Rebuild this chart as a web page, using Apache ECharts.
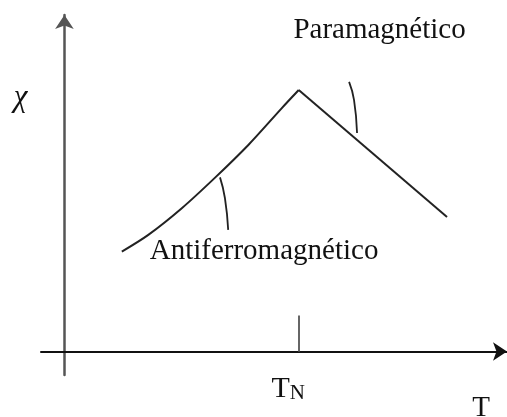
<!DOCTYPE html>
<html>
<head>
<meta charset="utf-8">
<script src="https://cdn.jsdelivr.net/npm/echarts@6/dist/echarts.min.js"></script>
<style>
  html, body { margin: 0; padding: 0; background: #fff; }
  #chart { width: 507px; height: 417px; }
</style>
</head>
<body>
<div id="chart"></div>
<script>
// Susceptibility χ versus temperature T around the Néel temperature T_N (= 100).
// Below T_N: antiferromagnetic branch (rising, slightly convex).
const antiferroT   = [24.5, 35.8, 50.1, 64.3, 78.5, 92.7, 100];
const antiferroChi = [3.82, 4.46, 5.48, 6.65, 7.90, 9.30, 10.0];
// Above T_N: paramagnetic branch (straight decline).
const paraT   = [100, 163.3];
const paraChi = [10.0, 5.14];

// Short leader strokes joining each label to its branch.
const paraLeaderT   = [121.5, 123.6, 124.9];
const paraLeaderChi = [10.31, 9.62, 8.36];
const antiLeaderT   = [66.4, 68.5, 69.9];
const antiLeaderChi = [6.66, 5.87, 4.65];

// Text annotations placed in data coordinates.
const noteTexts = ['Paramagnético', 'Antiferromagnético', 'χ', 'T'];
const noteT     = [134.5, 85.2, -18.7, 177.8];
const noteChi   = [12.30, 3.84, 9.72, -2.16];

// Marked temperature on the T axis.
const neelT = 100;

const zip = (a, b) => a.map((v, i) => [v, b[i]]);

const chart = echarts.init(document.getElementById('chart'), null, { renderer: 'canvas' });

const serif = '"Liberation Serif", "Times New Roman", serif';
const ink = '#111';

chart.setOption({
  animation: false,
  backgroundColor: '#fff',
  grid: { left: 41, right: 0, top: 15, bottom: 42, containLabel: false },
  xAxis: {
    type: 'value',
    min: -10,
    max: 188.9,
    splitLine: { show: false },
    axisLine: {
      show: true,
      onZero: true,
      symbol: ['none', 'arrow'],
      symbolSize: [14, 14],
      lineStyle: { color: '#111', width: 2 }
    },
    axisTick: {
      show: true,
      inside: true,
      length: 36,
      customValues: [neelT],
      lineStyle: { color: '#666', width: 2 }
    },
    axisLabel: {
      show: true,
      customValues: [neelT],
      margin: -1,
      padding: [0, 21, 0, 0],
      formatter: () => '{t|T}{n|N}',
      rich: {
        t: { fontFamily: serif, fontSize: 30, color: ink, verticalAlign: 'bottom', lineHeight: 30 },
        n: { fontFamily: serif, fontSize: 21, color: ink, verticalAlign: 'bottom', lineHeight: 24 }
      }
    }
  },
  yAxis: {
    type: 'value',
    min: -0.9,
    max: 12.87,
    splitLine: { show: false },
    axisTick: { show: false },
    axisLabel: { show: false },
    axisLine: {
      show: true,
      onZero: true,
      symbol: ['none', 'arrow'],
      symbolSize: [14, 14],
      lineStyle: { color: '#555', width: 2.5 }
    }
  },
  series: [
    {
      name: 'Antiferromagnético',
      type: 'line',
      data: zip(antiferroT, antiferroChi),
      smooth: 0.3,
      showSymbol: false,
      lineStyle: { color: '#222', width: 2 }
    },
    {
      name: 'Paramagnético',
      type: 'line',
      data: zip(paraT, paraChi),
      showSymbol: false,
      lineStyle: { color: '#222', width: 2 }
    },
    {
      name: 'leader-para',
      type: 'line',
      data: zip(paraLeaderT, paraLeaderChi),
      smooth: true,
      showSymbol: false,
      lineStyle: { color: '#222', width: 1.8 }
    },
    {
      name: 'leader-anti',
      type: 'line',
      data: zip(antiLeaderT, antiLeaderChi),
      smooth: true,
      showSymbol: false,
      lineStyle: { color: '#222', width: 1.8 }
    },
    {
      name: 'notes',
      type: 'scatter',
      clip: false,
      symbolSize: 0,
      silent: true,
      itemStyle: { opacity: 1, color: ink },
      data: noteTexts.map((txt, i) => ({
        name: txt,
        value: [noteT[i], noteChi[i]],
        label: txt === 'χ' ? { fontStyle: 'italic', fontSize: 31 } : {}
      })),
      label: {
        show: true,
        position: 'inside',
        formatter: (p) => p.name,
        fontFamily: serif,
        fontSize: 29,
        color: ink,
        opacity: 1,
        align: 'center',
        verticalAlign: 'middle'
      }
    }
  ]
});
</script>
</body>
</html>
